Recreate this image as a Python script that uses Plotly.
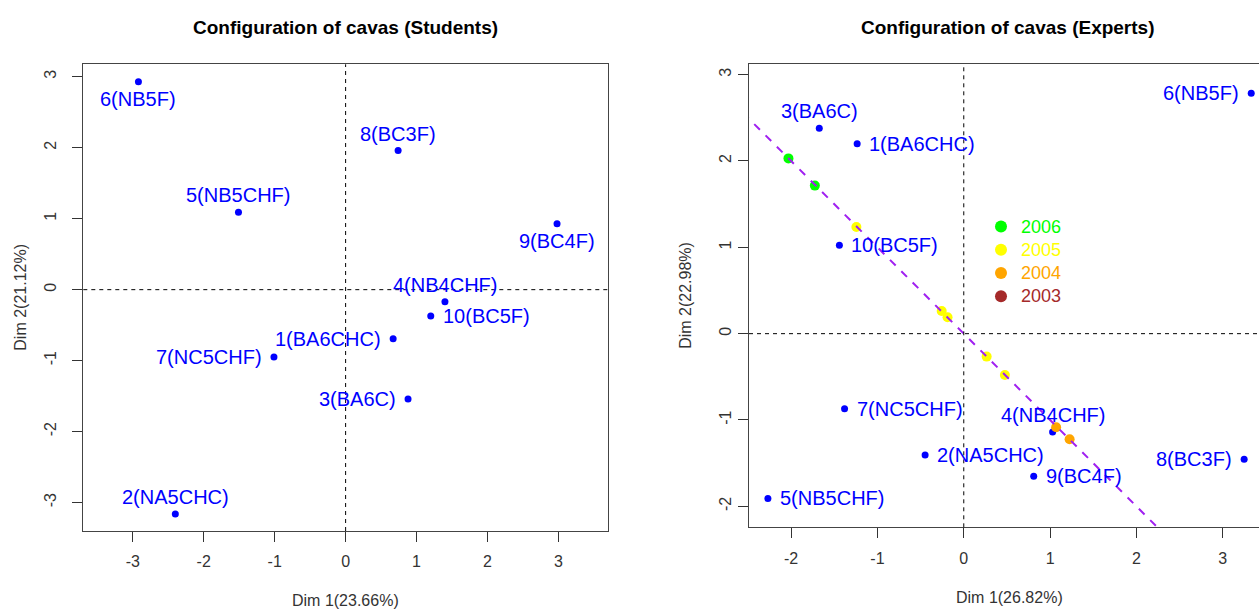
import plotly.graph_objects as go

# ---- data -------------------------------------------------------------
cava_labels = ["1(BA6CHC)", "2(NA5CHC)", "3(BA6C)", "4(NB4CHF)", "5(NB5CHF)",
               "6(NB5F)", "7(NC5CHF)", "8(BC3F)", "9(BC4F)", "10(BC5F)"]

# Students' configuration
stu_dim1 = [0.67, -2.40, 0.88, 1.40, -1.51, -2.92, -1.01, 0.74, 2.98, 1.20]
stu_dim2 = [-0.69, -3.16, -1.54, -0.17, 1.09, 2.93, -0.95, 1.96, 0.93, -0.37]
stu_pos = [2, 3, 2, 3, 3, 1, 2, 3, 1, 4]   # 1 below, 2 left, 3 above, 4 right

# Experts' configuration
exp_dim1 = [-1.235, -0.448, -1.674, 1.029, -2.269, 3.33, -1.381, 3.248, 0.81, -1.441]
exp_dim2 = [2.20, -1.406, 2.38, -1.139, -1.908, 2.785, -0.869, -1.456, -1.653, 1.024]
exp_pos = [4, 4, 3, 3, 4, 2, 4, 2, 4, 4]

# Vintages projected on the ageing direction
years = ["2006", "2005", "2004", "2003"]
year_colors = ["#00FF00", "#FFFF00", "#FFA500", "#A52A2A"]
year_dim1 = [[-2.031, -1.725], [-1.244, -0.256, -0.188, 0.265, 0.476], [1.07, 1.226], []]
year_dim2 = [[2.03, 1.715], [1.236, 0.263, 0.19, -0.266, -0.479], [-1.085, -1.224], []]

# Ageing direction: y = intercept + slope * x
trend_slope = -1.0
trend_intercept = 0.0

stu_inertia = ("23.66%", "21.12%")
exp_inertia = ("26.82%", "22.98%")

# Tick positions and labels
stu_ticks = [-3, -2, -1, 0, 1, 2, 3]
stu_ticktext = ["-3", "-2", "-1", "0", "1", "2", "3"]
exp_ticks = [-2, -1, 0, 1, 2, 3]
exp_ticktext = ["-2", "-1", "0", "1", "2", "3"]

# ---- layout constants ---------------------------------------------------
W, H = 1259, 609
FONT = "Liberation Sans, Arial, Helvetica, sans-serif"
BLUE = "#0000FF"
AXIS_GREY = "#333333"


def px_x(p):
    return p / W


def px_y(p):
    return 1 - p / H


fig = go.Figure()

# Students panel points
fig.add_trace(go.Scatter(x=stu_dim1, y=stu_dim2, mode="markers",
                         marker=dict(color=BLUE, size=7, line=dict(width=0)),
                         xaxis="x", yaxis="y", showlegend=False, hoverinfo="skip"))

# Experts panel points
fig.add_trace(go.Scatter(x=exp_dim1, y=exp_dim2, mode="markers",
                         marker=dict(color=BLUE, size=7, line=dict(width=0)),
                         xaxis="x2", yaxis="y2", showlegend=False, hoverinfo="skip"))

# Vintage points (also provide the legend)
for yr, col, xs, ys in zip(years, year_colors, year_dim1, year_dim2):
    fig.add_trace(go.Scatter(
        x=xs if xs else [None], y=ys if ys else [None], mode="markers",
        marker=dict(color=col, size=10, line=dict(width=0)),
        name=f'<span style="color:{col};font-size:18px">{yr}</span>',
        xaxis="x2", yaxis="y2", showlegend=True, hoverinfo="skip"))

# Ageing direction line
tx = [-4.0, 4.0]
ty = [trend_intercept + trend_slope * v for v in tx]
fig.add_trace(go.Scatter(x=tx, y=ty, mode="lines",
                         line=dict(color="#A020F0", width=2, dash="8px,8px"),
                         xaxis="x2", yaxis="y2", showlegend=False, hoverinfo="skip"))

# ---- point labels ---------------------------------------------------------
POS = {
    1: dict(xanchor="center", yanchor="middle", xshift=0, yshift=-17),
    2: dict(xanchor="right", yanchor="middle", xshift=-10, yshift=0),
    3: dict(xanchor="center", yanchor="middle", xshift=0, yshift=17),
    4: dict(xanchor="left", yanchor="middle", xshift=10, yshift=0),
}
annotations = []
for xs, ys, ps, xr, yr in [(stu_dim1, stu_dim2, stu_pos, "x", "y"),
                           (exp_dim1, exp_dim2, exp_pos, "x2", "y2")]:
    for lab, xv, yv, p in zip(cava_labels, xs, ys, ps):
        annotations.append(dict(x=xv, y=yv, xref=xr, yref=yr, text=lab, showarrow=False,
                                font=dict(family=FONT, size=20, color=BLUE), **POS[p]))

# Titles
for cx, txt in [(345.5, "Configuration of cavas (Students)"),
                (1008, "Configuration of cavas (Experts)")]:
    annotations.append(dict(x=px_x(cx), y=px_y(27), xref="paper", yref="paper",
                            text=f"<b>{txt}</b>", showarrow=False,
                            xanchor="center", yanchor="middle",
                            font=dict(family=FONT, size=19, color="#000000")))

# Axis titles
for cx, cy, txt, ang in [(345.5, 600, f"Dim 1({stu_inertia[0]})", 0),
                         (21, 297.7, f"Dim 2({stu_inertia[1]})", -90),
                         (1009, 597, f"Dim 1({exp_inertia[0]})", 0),
                         (686, 295.8, f"Dim 2({exp_inertia[1]})", -90)]:
    annotations.append(dict(x=px_x(cx), y=px_y(cy), xref="paper", yref="paper",
                            text=txt, showarrow=False, textangle=ang,
                            xanchor="center", yanchor="middle",
                            font=dict(family=FONT, size=16, color=AXIS_GREY)))

# Dashed reference axes through the origin
shapes = []
for xr, yr in [("x", "y"), ("x2", "y2")]:
    shapes.append(dict(type="line", xref=xr, yref=f"{yr} domain", x0=0, x1=0, y0=0, y1=1,
                       line=dict(color="#000000", width=1, dash="4px,4px")))
    shapes.append(dict(type="line", xref=f"{xr} domain", yref=yr, x0=0, x1=1, y0=0, y1=0,
                       line=dict(color="#000000", width=1, dash="4px,4px")))

axis_common = dict(showgrid=False, zeroline=False, showline=True, linecolor="#444444",
                   linewidth=1, ticks="outside", ticklen=10, tickwidth=1, tickcolor="#333333",
                   tickfont=dict(family=FONT, size=16, color=AXIS_GREY))

fig.update_layout(
    width=W, height=H, autosize=False,
    margin=dict(l=0, r=0, t=0, b=0),
    paper_bgcolor="white", plot_bgcolor="white",
    xaxis=dict(domain=[px_x(83.3), px_x(607.7)], range=[-3.697, 3.694],
               tickvals=stu_ticks, ticktext=stu_ticktext, mirror=True, anchor="y",
               ticklabelstandoff=6, **axis_common),
    yaxis=dict(domain=[px_y(531), px_y(64.3)], range=[-3.40, 3.175],
               tickvals=stu_ticks, ticktext=stu_ticktext, mirror=True, anchor="x",
               tickangle=-90, ticklabelstandoff=10, **axis_common),
    xaxis2=dict(domain=[px_x(749), 1.0], range=[-2.488, 3.42],
                tickvals=exp_ticks, ticktext=exp_ticktext, mirror=True, anchor="y2",
                ticklabelstandoff=6, **axis_common),
    yaxis2=dict(domain=[px_y(527.3), px_y(64.3)], range=[-2.243, 3.12],
                tickvals=exp_ticks, ticktext=exp_ticktext, mirror=False, anchor="x2",
                tickangle=-90, ticklabelstandoff=1, **axis_common),
    legend=dict(x=px_x(981), y=px_y(209.8), xanchor="left", yanchor="top",
                bgcolor="rgba(0,0,0,0)", borderwidth=0, traceorder="normal",
                font=dict(family=FONT, size=15.6), itemsizing="constant"),
    annotations=annotations,
    shapes=shapes,
)

fig.write_html("out.html")
